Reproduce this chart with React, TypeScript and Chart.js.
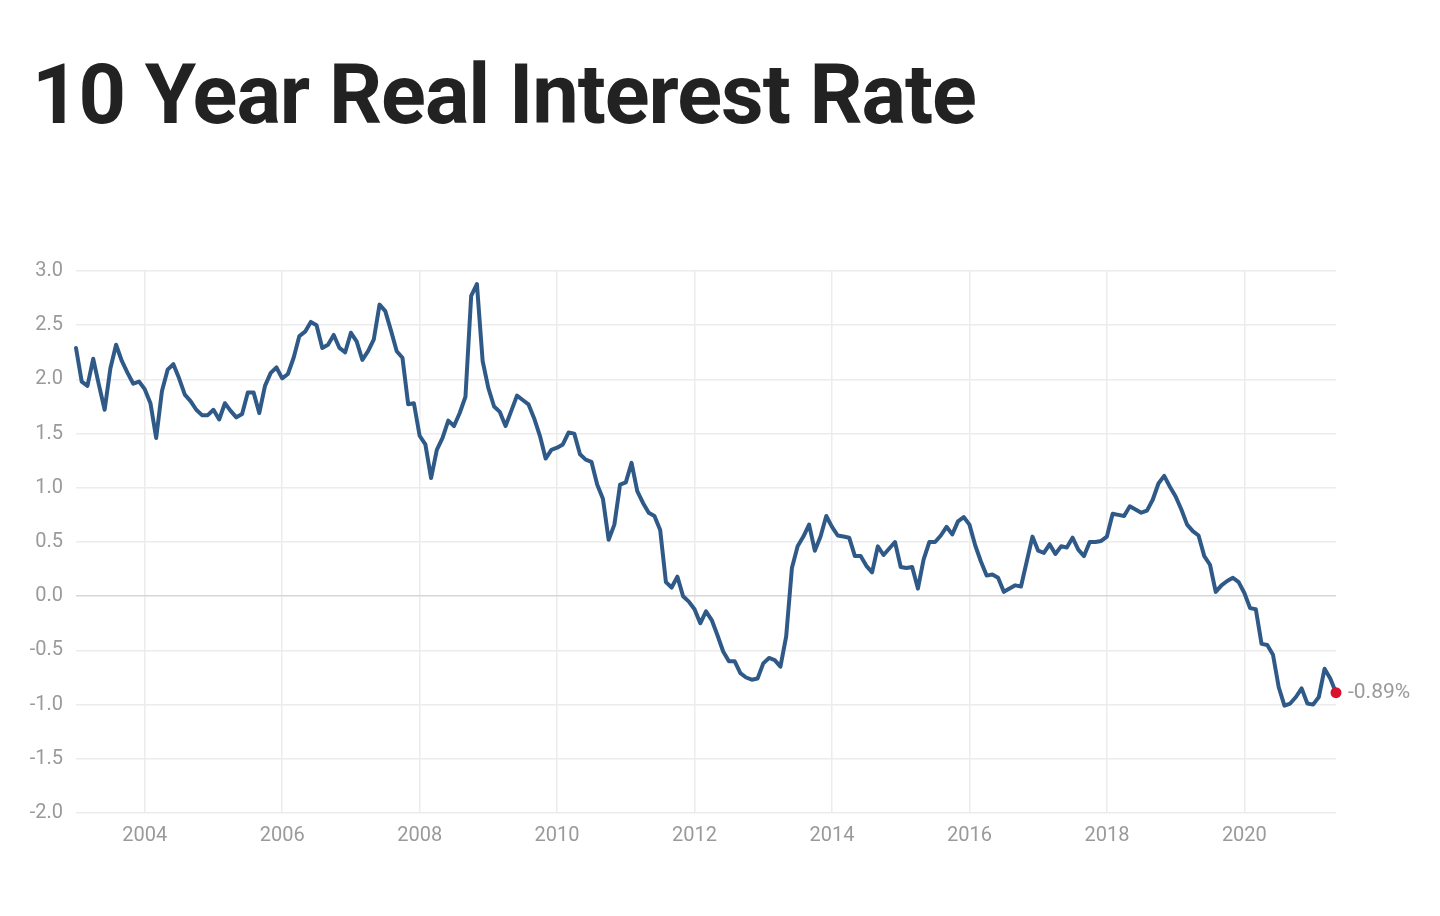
import React, { useEffect, useRef } from "react";
import { Chart, registerables } from "chart.js";

Chart.register(...registerables);

// monthly readings, Jan 2003 .. May 2021
const startYear = 2003;
const rates = [
  // 2003
  2.29, 1.98, 1.94, 2.19, 1.95, 1.72, 2.1, 2.32, 2.17, 2.06, 1.96, 1.98,
  // 2004
  1.91, 1.78, 1.46, 1.89, 2.09, 2.14, 2.01, 1.86, 1.8, 1.72, 1.67, 1.67,
  // 2005
  1.72, 1.63, 1.78, 1.71, 1.65, 1.68, 1.88, 1.88, 1.69, 1.94, 2.06, 2.11,
  // 2006
  2.01, 2.05, 2.2, 2.4, 2.44, 2.53, 2.5, 2.29, 2.32, 2.41, 2.29, 2.25,
  // 2007
  2.43, 2.35, 2.18, 2.26, 2.37, 2.69, 2.63, 2.45, 2.26, 2.2, 1.77, 1.78,
  // 2008
  1.48, 1.4, 1.09, 1.35, 1.46, 1.62, 1.57, 1.69, 1.84, 2.77, 2.88, 2.17,
  // 2009
  1.92, 1.75, 1.7, 1.57, 1.71, 1.85, 1.81, 1.77, 1.64, 1.48, 1.27, 1.35,
  // 2010
  1.37, 1.4, 1.51, 1.5, 1.31, 1.26, 1.24, 1.03, 0.9, 0.52, 0.66, 1.03,
  // 2011
  1.05, 1.23, 0.97, 0.86, 0.77, 0.74, 0.61, 0.13, 0.08, 0.18, 0.0, -0.05,
  // 2012
  -0.12, -0.25, -0.14, -0.22, -0.36, -0.51, -0.6, -0.6, -0.71, -0.75, -0.77, -0.76,
  // 2013
  -0.62, -0.57, -0.59, -0.65, -0.37, 0.26, 0.46, 0.55, 0.66, 0.42, 0.55, 0.74,
  // 2014
  0.64, 0.56, 0.55, 0.54, 0.37, 0.37, 0.28, 0.22, 0.46, 0.38, 0.44, 0.5,
  // 2015
  0.27, 0.26, 0.27, 0.07, 0.34, 0.5, 0.5, 0.56, 0.64, 0.57, 0.69, 0.73,
  // 2016
  0.66, 0.47, 0.32, 0.19, 0.2, 0.17, 0.04, 0.07, 0.1, 0.09, 0.32, 0.55,
  // 2017
  0.42, 0.4, 0.48, 0.39, 0.46, 0.45, 0.54, 0.43, 0.37, 0.5, 0.5, 0.51,
  // 2018
  0.55, 0.76, 0.75, 0.74, 0.83, 0.8, 0.77, 0.79, 0.89, 1.04, 1.11, 1.01,
  // 2019
  0.92, 0.8, 0.66, 0.6, 0.56, 0.37, 0.29, 0.04, 0.1, 0.14, 0.17, 0.13,
  // 2020
  0.03, -0.11, -0.12, -0.44, -0.45, -0.54, -0.84, -1.01, -0.99, -0.93, -0.85, -0.99,
  // 2021
  -1.0, -0.93, -0.67, -0.76, -0.89,
];

const xTicks = [2004, 2006, 2008, 2010, 2012, 2014, 2016, 2018, 2020];
const yTicks = [-2, -1.5, -1, -0.5, 0, 0.5, 1, 1.5, 2, 2.5, 3];
const lastLabel = "-0.89%";
const title = "10 Year Real Interest Rate";

const lineColor = "#2f5a88";
const dotColor = "#d8112f";
const tickColor = "#9a9a9a";
const gridColor = "#ececec";

// writes the latest value next to the red dot
const lastValuePlugin = {
  id: "lastValue",
  afterDatasetsDraw(chart: any) {
    const meta = chart.getDatasetMeta(0);
    const pt = meta.data[meta.data.length - 1];
    if (!pt) return;
    const ctx = chart.ctx;
    ctx.save();
    ctx.font = "21px Roboto";
    ctx.fillStyle = tickColor;
    ctx.textBaseline = "middle";
    ctx.textAlign = "left";
    ctx.fillText(lastLabel, pt.x + 12, pt.y);
    ctx.restore();
  },
};

const RateChart: React.FC = () => {
  const canvasRef = useRef<HTMLCanvasElement>(null);
  const chartRef = useRef<Chart | null>(null);

  useEffect(() => {
    if (!canvasRef.current) return;
    const ctx = canvasRef.current.getContext("2d");
    if (!ctx) return;

    const points = rates.map((v, i) => ({ x: startYear + i / 12, y: v }));
    const lastIdx = rates.length - 1;

    chartRef.current = new Chart(ctx, {
      type: "line",
      data: {
        datasets: [
          {
            data: points,
            borderColor: lineColor,
            borderWidth: 4,
            borderJoinStyle: "round",
            borderCapStyle: "round",
            tension: 0,
            clip: false,
            pointRadius: (c: any) => (c.dataIndex === lastIdx ? 5.5 : 0),
            pointBackgroundColor: dotColor,
            pointBorderWidth: 0,
            pointHoverRadius: 0,
          },
        ],
      },
      options: {
        animation: false,
        responsive: true,
        maintainAspectRatio: false,
        layout: { padding: { top: 16, right: 104, left: 0, bottom: 0 } },
        plugins: {
          legend: { display: false },
          tooltip: { enabled: false },
        },
        scales: {
          x: {
            type: "linear",
            min: startYear,
            max: startYear + lastIdx / 12,
            afterBuildTicks: (s: any) => {
              s.ticks = xTicks.map((v) => ({ value: v }));
            },
            afterFit: (s: any) => {
              s.height = 40;
            },
            grid: { color: gridColor, lineWidth: 1.5, drawTicks: false },
            border: { display: false },
            ticks: {
              color: tickColor,
              font: { family: "Roboto", size: 20 },
              padding: 11,
              maxRotation: 0,
              autoSkip: false,
              callback: (v: any) => String(v),
            },
          },
          y: {
            min: yTicks[0],
            max: yTicks[yTicks.length - 1],
            afterBuildTicks: (s: any) => {
              s.ticks = yTicks.map((v) => ({ value: v }));
            },
            afterFit: (s: any) => {
              s.width = 76;
            },
            grid: {
              color: (c: any) => (c.tick && c.tick.value === 0 ? "#d6d6d6" : gridColor),
              lineWidth: 1.5,
              drawTicks: false,
            },
            border: { display: false },
            ticks: {
              color: tickColor,
              font: { family: "Roboto", size: 20 },
              padding: 13,
              callback: (v: any) => Number(v).toFixed(1),
            },
          },
        },
      },
      plugins: [lastValuePlugin],
    });

    return () => {
      if (chartRef.current) {
        chartRef.current.destroy();
        chartRef.current = null;
      }
    };
  }, []);

  return (
    <div style={{ position: "absolute", left: 0, top: 246, width: 1440, height: 607 }}>
      <canvas ref={canvasRef}></canvas>
    </div>
  );
};

export default function App() {
  return (
    <div
      style={{
        position: "absolute",
        left: 0,
        top: 0,
        width: 1440,
        height: 916,
        background: "#fff",
        fontFamily: "Roboto, sans-serif",
      }}
    >
      <h1
        style={{
          position: "absolute",
          left: 32,
          top: 46,
          margin: 0,
          fontSize: 83,
          fontWeight: 700,
          letterSpacing: -1,
          lineHeight: "normal",
          color: "#222",
          whiteSpace: "nowrap",
        }}
      >
        {title}
      </h1>
      <RateChart />
    </div>
  );
}
